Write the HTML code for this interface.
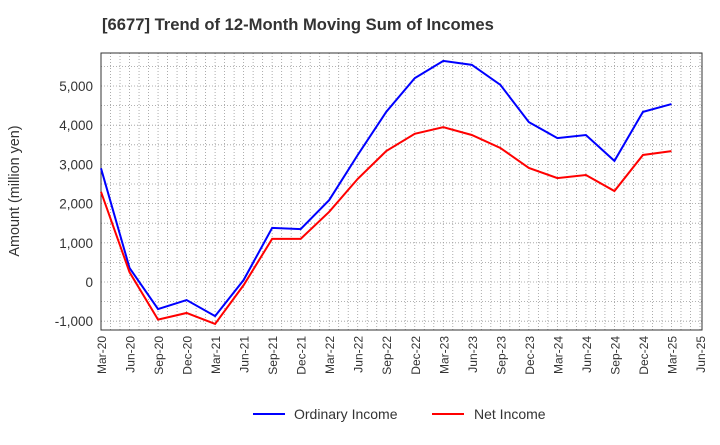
<!DOCTYPE html>
<html><head><meta charset="utf-8">
<style>
body{margin:0;background:#fff;font-family:"Liberation Sans",sans-serif;}
svg text{font-family:"Liberation Sans",sans-serif;}
</style></head>
<body>
<svg id="chart" width="720" height="440">
<text x="102" y="30" font-size="16.6" font-weight="bold" fill="#333">[6677]  Trend of 12-Month Moving Sum of Incomes</text>
<text transform="translate(19,191) rotate(-90)" text-anchor="middle" font-size="14.4" fill="#333">Amount (million yen)</text>
<g id="grid"></g><g id="axes"></g><g id="series"></g>
<g>
<line x1="253" y1="414" x2="285" y2="414" stroke="#0000ff" stroke-width="2"/>
<text x="294" y="419" font-size="14" fill="#333">Ordinary Income</text>
<line x1="432" y1="414" x2="464" y2="414" stroke="#ff0000" stroke-width="2"/>
<text x="474" y="419" font-size="14" fill="#333">Net Income</text>
</g>
</svg>
<script>
const xLabels=["Mar-20","Jun-20","Sep-20","Dec-20","Mar-21","Jun-21","Sep-21","Dec-21","Mar-22","Jun-22","Sep-22","Dec-22","Mar-23","Jun-23","Sep-23","Dec-23","Mar-24","Jun-24","Sep-24","Dec-24","Mar-25","Jun-25"];
const yTicks=[-1000,0,1000,2000,3000,4000,5000];
const ordinaryIncome=[2900,360,-690,-460,-870,50,1380,1350,2090,3240,4340,5200,5640,5540,5030,4080,3670,3750,3090,4340,4540];
const netIncome=[2300,250,-960,-790,-1070,-80,1100,1100,1790,2630,3340,3780,3950,3750,3420,2910,2650,2730,2320,3240,3340];
const NS="http://www.w3.org/2000/svg";
const L=101,R=702,T=53,B=330;
const x=i=>L+(R-2-L)*i/(xLabels.length-1);
const y=v=>282-v*0.0392;
function mk(tag,attrs,parent){const e=document.createElementNS(NS,tag);for(const k in attrs)e.setAttribute(k,attrs[k]);parent.appendChild(e);return e;}
const grid=document.getElementById('grid'),axes=document.getElementById('axes'),ser=document.getElementById('series');
for(let m=0;m<=(xLabels.length-1)*3;m++){const xx=L+(R-2-L)*m/((xLabels.length-1)*3);
const g=mk('line',{x1:xx,x2:xx,y1:T,y2:B,stroke:'#999','stroke-width':0.8,'stroke-dasharray':'1,2'},grid);

}
for(let v=-1000;v<=5500;v+=500){const g=mk('line',{x1:L,x2:R,y1:y(v),y2:y(v),stroke:'#999','stroke-width':0.8,'stroke-dasharray':'1,2'},grid);

}
const frame=mk('rect',{x:L,y:T,width:R-L,height:B-T,fill:'none',stroke:'#333','stroke-width':1},axes);


yTicks.forEach(v=>{const t=mk('text',{x:L-8,y:y(v)+5,'text-anchor':'end','font-size':13.5,fill:'#333'},axes);t.textContent=v.toLocaleString('en-US');

});
xLabels.forEach((s,i)=>{const t=mk('text',{transform:`translate(${x(i)+5},${B+6}) rotate(-90)`,'text-anchor':'end','font-size':12,fill:'#333'},axes);t.textContent=s;

});
function line(data,color,name){const p=mk('polyline',{points:data.map((v,i)=>x(i)+','+y(v)).join(' '),fill:'none',stroke:color,'stroke-width':2},ser);

}
line(ordinaryIncome,'#0000ff','ordinary-income-line');
line(netIncome,'#ff0000','net-income-line');
</script>
</body></html>
